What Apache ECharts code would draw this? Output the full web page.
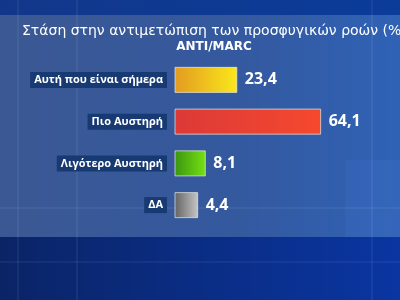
<!DOCTYPE html>
<html>
<head>
<meta charset="utf-8">
<script src="https://cdn.jsdelivr.net/npm/echarts@6/dist/echarts.min.js"></script>
<style>html,body{margin:0;padding:0;}#c{width:400px;height:300px;}</style>
</head>
<body>
<div id="c"></div>
<script>
var categories = ['Αυτή που είναι σήμερα', 'Πιο Αυστηρή', 'Λιγότερο Αυστηρή', 'ΔΑ'];
var values = [23.4, 64.1, 8.1, 4.4];
var titleText = 'Στάση στην αντιμετώπιση των προσφυγικών ροών (%)';
var subtitleText = 'ANTI/MARC';
var colorsStart = ['#e39a22', '#dc3a38', '#3a9410', '#626262'];
var colorsEnd = ['#fae81a', '#f5482e', '#74e214', '#c6c6c6'];

var xMin = -6.6, xMax = 100;
var chart = echarts.init(document.getElementById('c'));

function fmt(v) { return String(v.toFixed(1)).replace('.', ','); }

var data = values.map(function (v, i) { return [v, i]; });

var bgGraphics = [
  { type: 'rect', z: -10, shape: { x: 0, y: 0, width: 400, height: 300 },
    style: { fill: new echarts.graphic.LinearGradient(0, 0, 1, 0, [
      { offset: 0, color: '#3b5893' }, { offset: 0.6, color: '#34599f' }, { offset: 1, color: '#2f62b6' }]) } },
  { type: 'rect', z: -9, shape: { x: 0, y: 0, width: 400, height: 15 },
    style: { fill: new echarts.graphic.LinearGradient(0, 0, 1, 0, [
      { offset: 0, color: '#12378a' }, { offset: 1, color: '#0a3c9a' }]) } },
  { type: 'rect', z: -9, shape: { x: 345, y: 160, width: 55, height: 77 }, style: { fill: 'rgba(70,120,210,0.18)' } },
  { type: 'rect', z: -9, shape: { x: 0, y: 237, width: 400, height: 63 },
    style: { fill: new echarts.graphic.LinearGradient(0, 0, 1, 0, [
      { offset: 0, color: '#0a2466' }, { offset: 1, color: '#0a36a2' }]) } },
  { type: 'line', z: -8, shape: { x1: 18, y1: 0, x2: 18, y2: 300 }, style: { stroke: 'rgba(255,255,255,0.12)', lineWidth: 1 } },
  { type: 'line', z: -8, shape: { x1: 77, y1: 0, x2: 77, y2: 300 }, style: { stroke: 'rgba(255,255,255,0.12)', lineWidth: 1 } },
  { type: 'line', z: -8, shape: { x1: 372, y1: 0, x2: 372, y2: 300 }, style: { stroke: 'rgba(255,255,255,0.12)', lineWidth: 1 } },
  { type: 'line', z: -8, shape: { x1: 0, y1: 208, x2: 400, y2: 208 }, style: { stroke: 'rgba(255,255,255,0.10)', lineWidth: 1 } },
  { type: 'line', z: -8, shape: { x1: 0, y1: 262, x2: 400, y2: 262 }, style: { stroke: 'rgba(255,255,255,0.10)', lineWidth: 1 } }
];

chart.setOption({
  animation: false,
  backgroundColor: '#34599f',
  graphic: bgGraphics,
  title: [
    { text: titleText, left: 17, top: 19,
      textStyle: { color: '#ffffff', fontFamily: 'DejaVu Sans', fontSize: 14, fontWeight: 'normal' } },
    { text: subtitleText, left: 209, top: 36, textAlign: 'center',
      textStyle: { color: '#ffffff', fontFamily: 'DejaVu Sans', fontSize: 12, fontWeight: 'bold' } }
  ],
  grid: { left: 175, right: 5.4, top: 59, bottom: 74, containLabel: false },
  xAxis: { type: 'value', min: xMin, max: xMax, show: false },
  yAxis: {
    type: 'category', data: categories, inverse: true,
    axisLine: { show: false }, axisTick: { show: false }, splitLine: { show: false },
    axisLabel: {
      margin: 8, color: '#ffffff', fontFamily: 'Open Sans', fontWeight: 'bold', fontSize: 11,
      backgroundColor: '#173a72', padding: [2, 4, 2, 4], lineHeight: 12
    }
  },
  series: [{
    type: 'custom',
    data: data,
    encode: { x: 0, y: 1 },
    renderItem: function (params, api) {
      var i = api.value(1);
      var v = api.value(0);
      var s = api.coord([xMin, i]);
      var e = api.coord([v, i]);
      var h = api.size([0, 1])[1] * 0.6;
      return {
        type: 'group',
        children: [
          { type: 'rect',
            shape: { x: s[0], y: s[1] - h / 2, width: e[0] - s[0], height: h },
            style: { fill: new echarts.graphic.LinearGradient(0, 0, 1, 0, [
                { offset: 0, color: colorsStart[i] }, { offset: 1, color: colorsEnd[i] }]),
              stroke: 'rgba(235,235,220,0.7)', lineWidth: 1 } },
          { type: 'text',
            style: { x: e[0] + 8, y: s[1], text: fmt(v), fill: '#ffffff',
              font: 'bold 16px "Open Sans"', textAlign: 'left', textVerticalAlign: 'middle' } }
        ]
      };
    }
  }]
});
</script>
</body>
</html>
